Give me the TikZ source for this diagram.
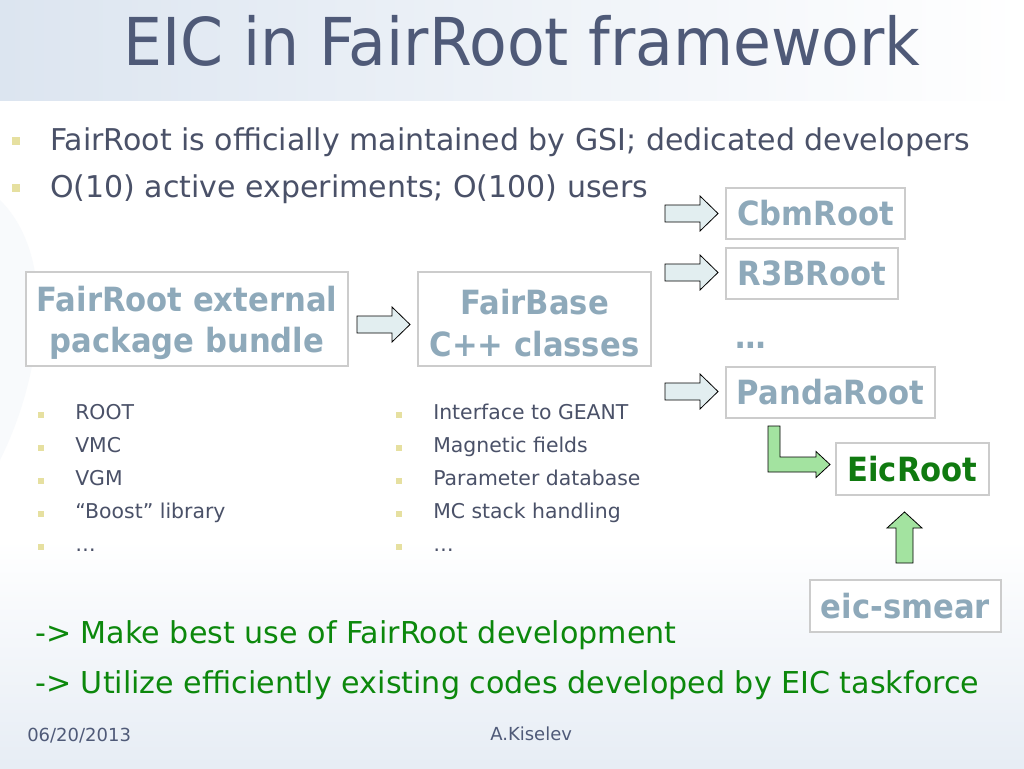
\documentclass[tikz,border=0pt]{standalone}
\usepackage{fontspec}
\setmainfont{DejaVu Sans}
\newfontfamily\titlefont{DejaVu Sans}[FakeStretch=0.934]
\newfontfamily\boxfont{DejaVu Sans}[FakeStretch=0.92]
\definecolor{titlec}{HTML}{4F5A78}
\definecolor{bodyc}{HTML}{4A5168}
\definecolor{bulc}{HTML}{E6E0A0}
\definecolor{boxtxt}{HTML}{8EA9BA}
\definecolor{boxln}{HTML}{CCCCCC}
\definecolor{arrfill}{HTML}{E2EEF0}
\definecolor{gtxt}{HTML}{0C880C}
\definecolor{eicc}{HTML}{107A10}
\definecolor{garr}{HTML}{A3E3A0}
\definecolor{bgblue}{HTML}{DCE5F0}
\tikzset{
  px/.style={x=0.75pt,y=-0.75pt},
  pbox/.style={draw=boxln,line width=0.9pt,fill=white,align=center,text=boxtxt,
     font=\fontsize{25}{31}\boxfont\bfseries,inner sep=0pt},
  bul/.style={fill=bulc},
  btext/.style={anchor=base west,text=bodyc,inner sep=0pt,font=\fontsize{22.5}{26}\selectfont},
  stext/.style={anchor=base west,text=bodyc,inner sep=0pt,font=\fontsize{15.3}{18}\selectfont},
  gline/.style={anchor=base west,text=gtxt,inner sep=0pt,font=\fontsize{22.6}{26}\selectfont},
  foot/.style={anchor=base west,text=titlec,inner sep=0pt,font=\fontsize{13.5}{16}\selectfont},
  barrow/.style={draw=black,fill=arrfill,line width=0.6pt,line join=miter},
  rarrow/.pic={\path[barrow] (0,-8.5) -- (35,-8.5) -- (35,-17.5) -- (53,0) -- (35,17.5) -- (35,8.5) -- (0,8.5) -- cycle;}
}
\begin{document}
\begin{tikzpicture}[px]
\useasboundingbox (0,0) rectangle (1024,768);
% background
\fill[white] (0,0) rectangle (1024,768);
\shade[left color=bgblue,right color=white] (0,0) rectangle (1024,100);
\shade[top color=white,bottom color=bgblue!70] (0,540) rectangle (1024,768);
\fill[bgblue!20] (0,200) .. controls (60,260) and (40,380) .. (0,460) -- cycle;
% title
\node[anchor=base,text=titlec,inner sep=0pt,font=\fontsize{49.5}{56}\titlefont] (title) at (522,65) {EIC in FairRoot framework};
% top bullets
\fill[bul] (12,137) rectangle (20,145);
\node[btext] (b1) at (50,150) {FairRoot is officially maintained by GSI; dedicated developers};
\fill[bul] (12,184) rectangle (20,192);
\node[btext] (b2) at (50,197) {O(10) active experiments; O(100) users};
% main boxes
\node[pbox,minimum width=322*0.75pt,minimum height=94*0.75pt] (ext) at (187,319) {\rule{0pt}{25pt}FairRoot external\\package bundle};
\node[pbox,minimum width=233*0.75pt,minimum height=94*0.75pt] (fb) at (534.5,319) {\rule{0pt}{25pt}FairBase\\C++ classes};
\pic at (357,324.5) {rarrow};
% right boxes
\node[pbox,minimum width=179*0.75pt,minimum height=51*0.75pt] (cbm) at (815.5,213.5) {CbmRoot};
\node[pbox,minimum width=172*0.75pt,minimum height=51*0.75pt] (r3b) at (812,273.5) {R3BRoot};
\node[text=boxtxt,inner sep=0pt,font=\fontsize{25}{30}\boxfont\bfseries,anchor=base west] (dots) at (735,348) {\dots};
\node[pbox,minimum width=209*0.75pt,minimum height=51*0.75pt] (panda) at (830.5,392.5) {PandaRoot};
\pic at (665,213.5) {rarrow};
\pic at (665,272.5) {rarrow};
\pic at (665,391.5) {rarrow};
\node[pbox,text=eicc,minimum width=153*0.75pt,minimum height=52*0.75pt] (eic) at (912.5,469) {EicRoot};
\node[pbox,minimum width=191*0.75pt,minimum height=52*0.75pt] (smear) at (905.5,606) {eic-smear};
% green arrows
\path[barrow,fill=garr] (768,426) -- (780,426) -- (780,457) -- (816,457) -- (816,451.5) -- (830,464.5) -- (816,477.5) -- (816,472) -- (768,472) -- cycle;
\path[barrow,fill=garr] (896,563) -- (896,528) -- (887,528) -- (904.5,512) -- (922,528) -- (913,528) -- (913,563) -- cycle;
% sub bullets left
\foreach \y/\t [count=\i] in {419/ROOT,452/VMC,485/VGM,518/{``Boost'' library},551/\dots}{
  \fill[bul] (38,\y-7) rectangle (44,\y-1);
  \node[stext] (l\i) at (75,\y) {\t};
}
\foreach \y/\t [count=\i] in {419/Interface to GEANT,452/Magnetic fields,485/Parameter database,518/MC stack handling,551/\dots}{
  \fill[bul] (396,\y-7) rectangle (402,\y-1);
  \node[stext] (r\i) at (433,\y) {\t};
}
% green lines
\node[gline] (g1) at (35,643) {-> Make best use of FairRoot development};
\node[gline] (g2) at (35,693) {-> Utilize efficiently existing codes developed by EIC taskforce};
% footer
\node[foot] (date) at (27,741) {06/20/2013};
\node[foot] (auth) at (490,740) {A.Kiselev};
\end{tikzpicture}
\end{document}
